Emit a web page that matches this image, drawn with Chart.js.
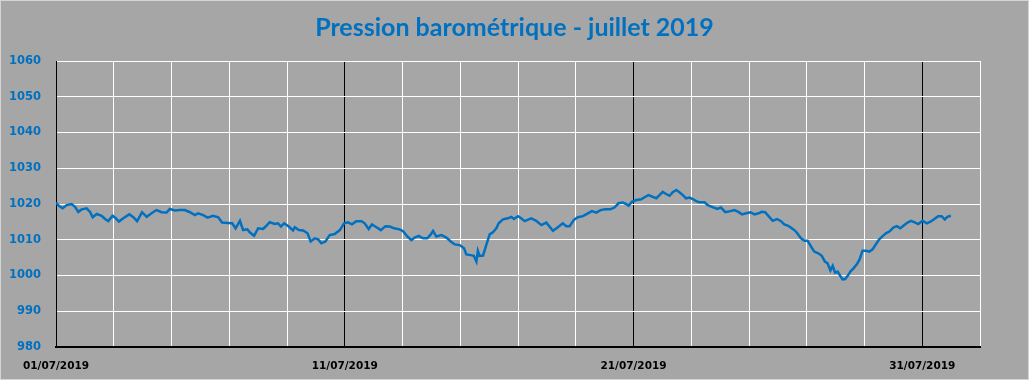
<!DOCTYPE html>
<html>
<head>
<meta charset="utf-8">
<script src="https://cdn.jsdelivr.net/npm/chart.js@4/dist/chart.umd.min.js"></script>
<style>
html,body{margin:0;padding:0;background:#a6a6a6;}
canvas{display:block;}
</style>
</head>
<body>
<canvas id="c" width="1029" height="380"></canvas>
<script>
// Time in days since 01/07/2019 00:00
const days = [
0.00,0.11,0.23,0.37,0.54,0.66,0.77,0.89,1.06,1.18,1.27,1.41,1.58,1.70,1.81,1.96,2.07,2.18,2.33,2.54,2.67,2.81,2.98,3.14,3.31,3.48,3.66,3.83,3.94,4.12,4.29,4.46,4.64,4.81,
4.92,5.10,5.25,5.44,5.62,5.75,5.96,6.10,6.22,6.37,6.48,6.63,6.71,6.86,7.00,7.17,7.26,7.40,7.58,7.69,7.79,7.90,8.06,8.21,8.27,8.41,8.56,8.71,8.82,8.96,9.08,9.19,9.33,9.48,9.65,9.83,9.98,10.11,
10.25,10.40,10.58,10.69,10.83,10.94,11.10,11.25,11.41,11.56,11.71,11.90,12.02,12.17,12.31,12.42,12.56,12.71,12.86,12.98,13.06,13.17,13.35,13.52,13.67,13.81,13.98,14.13,14.21,14.36,14.47,14.56,14.61,14.67,14.79,14.90,15.02,15.13,15.25,15.33,
15.48,15.65,15.77,15.86,16.00,16.11,16.23,16.46,16.63,16.81,16.98,17.09,17.21,17.38,17.55,17.67,17.79,17.93,18.07,18.25,18.42,18.56,18.71,18.86,19.02,19.20,19.34,19.48,19.63,19.75,19.83,19.94,20.09,20.27,20.38,20.52,
20.67,20.79,20.90,21.01,21.13,21.25,21.36,21.48,21.59,21.71,21.82,21.94,22.05,22.17,22.28,22.46,22.57,22.74,22.90,23.03,23.18,23.36,23.49,23.63,23.76,23.90,24.05,24.19,24.33,24.44,24.56,24.67,24.82,24.97,25.11,25.22,25.36,25.48,25.60,25.69,
25.80,25.92,26.03,26.15,26.26,26.40,26.52,26.63,26.72,26.82,26.90,26.98,27.07,27.16,27.24,27.33,27.42,27.51,27.62,27.74,27.83,27.93,28.05,28.17,28.28,28.40,28.51,28.63,28.74,28.86,29.01,29.12,29.24,29.38,29.49,29.61,29.72,29.86,30.01,30.16,30.30,30.42,30.55,30.67,30.78,30.87,30.99
];
// Pression (hPa)
const pressure = [
1020.4,1019.4,1018.8,1019.7,1020.0,1019.2,1017.8,1018.5,1018.8,1017.8,1016.3,1017.2,1016.7,1015.8,1015.2,1016.7,1016.0,1015.1,1016.0,1017.1,1016.4,1015.2,1017.7,1016.4,1017.4,1018.3,1017.7,1017.6,1018.6,1018.2,1018.3,1018.3,1017.7,1016.9,
1017.4,1016.9,1016.2,1016.7,1016.3,1014.8,1014.7,1014.6,1013.2,1015.3,1012.7,1012.9,1012.1,1011.1,1013.2,1013.0,1013.7,1014.9,1014.4,1014.6,1013.7,1014.6,1013.7,1012.6,1013.5,1012.7,1012.6,1011.8,1009.5,1010.4,1010.1,1009.0,1009.5,1011.3,1011.6,1012.7,1014.6,1014.9,
1014.3,1015.2,1015.2,1014.6,1013.0,1014.3,1013.5,1012.7,1013.8,1013.7,1013.2,1012.9,1012.4,1010.9,1009.9,1010.6,1011.1,1010.4,1010.4,1011.5,1012.5,1010.9,1011.3,1010.6,1009.5,1008.7,1008.5,1007.6,1005.9,1005.7,1005.5,1003.9,1006.9,1005.5,1005.6,1008.5,1011.5,1012.1,1013.2,1014.6,
1015.7,1016.0,1016.4,1015.8,1016.6,1016.0,1015.2,1016.0,1015.3,1014.1,1014.8,1013.7,1012.5,1013.5,1014.6,1013.8,1013.8,1015.5,1016.3,1016.6,1017.4,1018.0,1017.6,1018.3,1018.5,1018.5,1019.0,1020.2,1020.4,1020.0,1019.5,1020.6,1021.1,1021.3,1021.9,1022.5,
1022.0,1021.6,1022.5,1023.4,1022.8,1022.3,1023.3,1023.9,1023.3,1022.5,1021.6,1021.8,1021.4,1020.8,1020.5,1020.5,1019.7,1019.1,1018.6,1019.0,1017.7,1018.0,1018.3,1017.8,1017.1,1017.4,1017.7,1017.1,1017.4,1017.8,1017.7,1016.7,1015.3,1015.8,1015.2,1014.3,1013.9,1013.2,1012.5,1011.6,
1010.4,1009.7,1009.7,1008.1,1006.7,1006.2,1005.5,1003.9,1003.4,1001.4,1002.7,1000.8,1001.1,999.9,998.9,999.0,999.9,1001.1,1002.0,1003.2,1004.5,1006.9,1006.9,1006.7,1007.3,1008.8,1010.1,1011.0,1011.8,1012.3,1013.5,1013.8,1013.2,1014.1,1014.8,1015.3,1014.9,1014.4,1015.3,1014.6,1015.1,1015.8,1016.6,1016.6,1015.7,1016.4,1016.7
];
const xTickDays = [0, 10, 20, 30];
const xTickLabels = ['01/07/2019', '11/07/2019', '21/07/2019', '31/07/2019'];
const titleText = 'Pression barométrique - juillet 2019';

const points = days.map((d, i) => ({ x: d, y: pressure[i] }));

const bgPlugin = {
  id: 'bg',
  beforeDraw(chart) {
    const ctx = chart.ctx;
    ctx.save();
    ctx.fillStyle = '#a6a6a6';
    ctx.fillRect(0, 0, chart.width, chart.height);
    ctx.strokeStyle = '#d4d4d4';
    ctx.lineWidth = 1;
    ctx.strokeRect(0.5, 0.5, chart.width - 1, chart.height - 1);
    ctx.restore();
  }
};

new Chart(document.getElementById('c'), {
  type: 'line',
  data: {
    datasets: [{
      data: points,
      borderColor: '#0070c0',
      borderWidth: 2.5,
      pointRadius: 0,
      tension: 0,
      fill: false
    }]
  },
  options: {
    responsive: false,
    animation: false,
    devicePixelRatio: 1,
    layout: { padding: 0 },
    plugins: {
      legend: { display: false },
      tooltip: { enabled: false },
      title: {
        display: true,
        text: titleText,
        color: '#0070c0',
        font: { family: 'Lato', size: 25, weight: 'bold', lineHeight: 1.2 },
        padding: { top: 13, bottom: 18 }
      }
    },
    scales: {
      x: {
        type: 'linear',
        min: 0,
        max: 32,
        afterFit(s) { s.height = 33; },
        afterBuildTicks(s) {
          const t = [];
          for (let v = 0; v <= 32; v += 2) t.push({ value: v });
          s.ticks = t;
        },
        ticks: {
          autoSkip: false,
          maxRotation: 0,
          padding: 13,
          color: '#000',
          font: { family: 'DejaVu Sans', size: 10.5, weight: 'bold' },
          callback(v) {
            const i = xTickDays.indexOf(v);
            return i >= 0 ? xTickLabels[i] : '';
          }
        },
        grid: {
          drawTicks: false,
          lineWidth: 1,
          color(c) {
            const v = c.tick ? c.tick.value : 0;
            return xTickDays.includes(v) ? '#000000' : '#ffffff';
          }
        },
        border: { display: true, color: '#000', width: 2 }
      },
      y: {
        min: 980,
        max: 1060,
        afterFit(s) { s.width = 56; },
        ticks: {
          stepSize: 10,
          padding: 15,
          color: '#0070c0',
          font: { family: 'DejaVu Sans', size: 11.5, weight: 'bold' },
          callback(v) { return String(v); }
        },
        grid: { drawTicks: false, color: '#ffffff', lineWidth: 1 },
        border: { display: true, color: '#000', width: 1 }
      },
      yRight: {
        position: 'right',
        min: 980,
        max: 1060,
        afterFit(s) { s.width = 49; },
        ticks: { display: false },
        grid: { display: false, drawTicks: false },
        border: { display: false }
      }
    }
  },
  plugins: [bgPlugin]
});
</script>
</body>
</html>
